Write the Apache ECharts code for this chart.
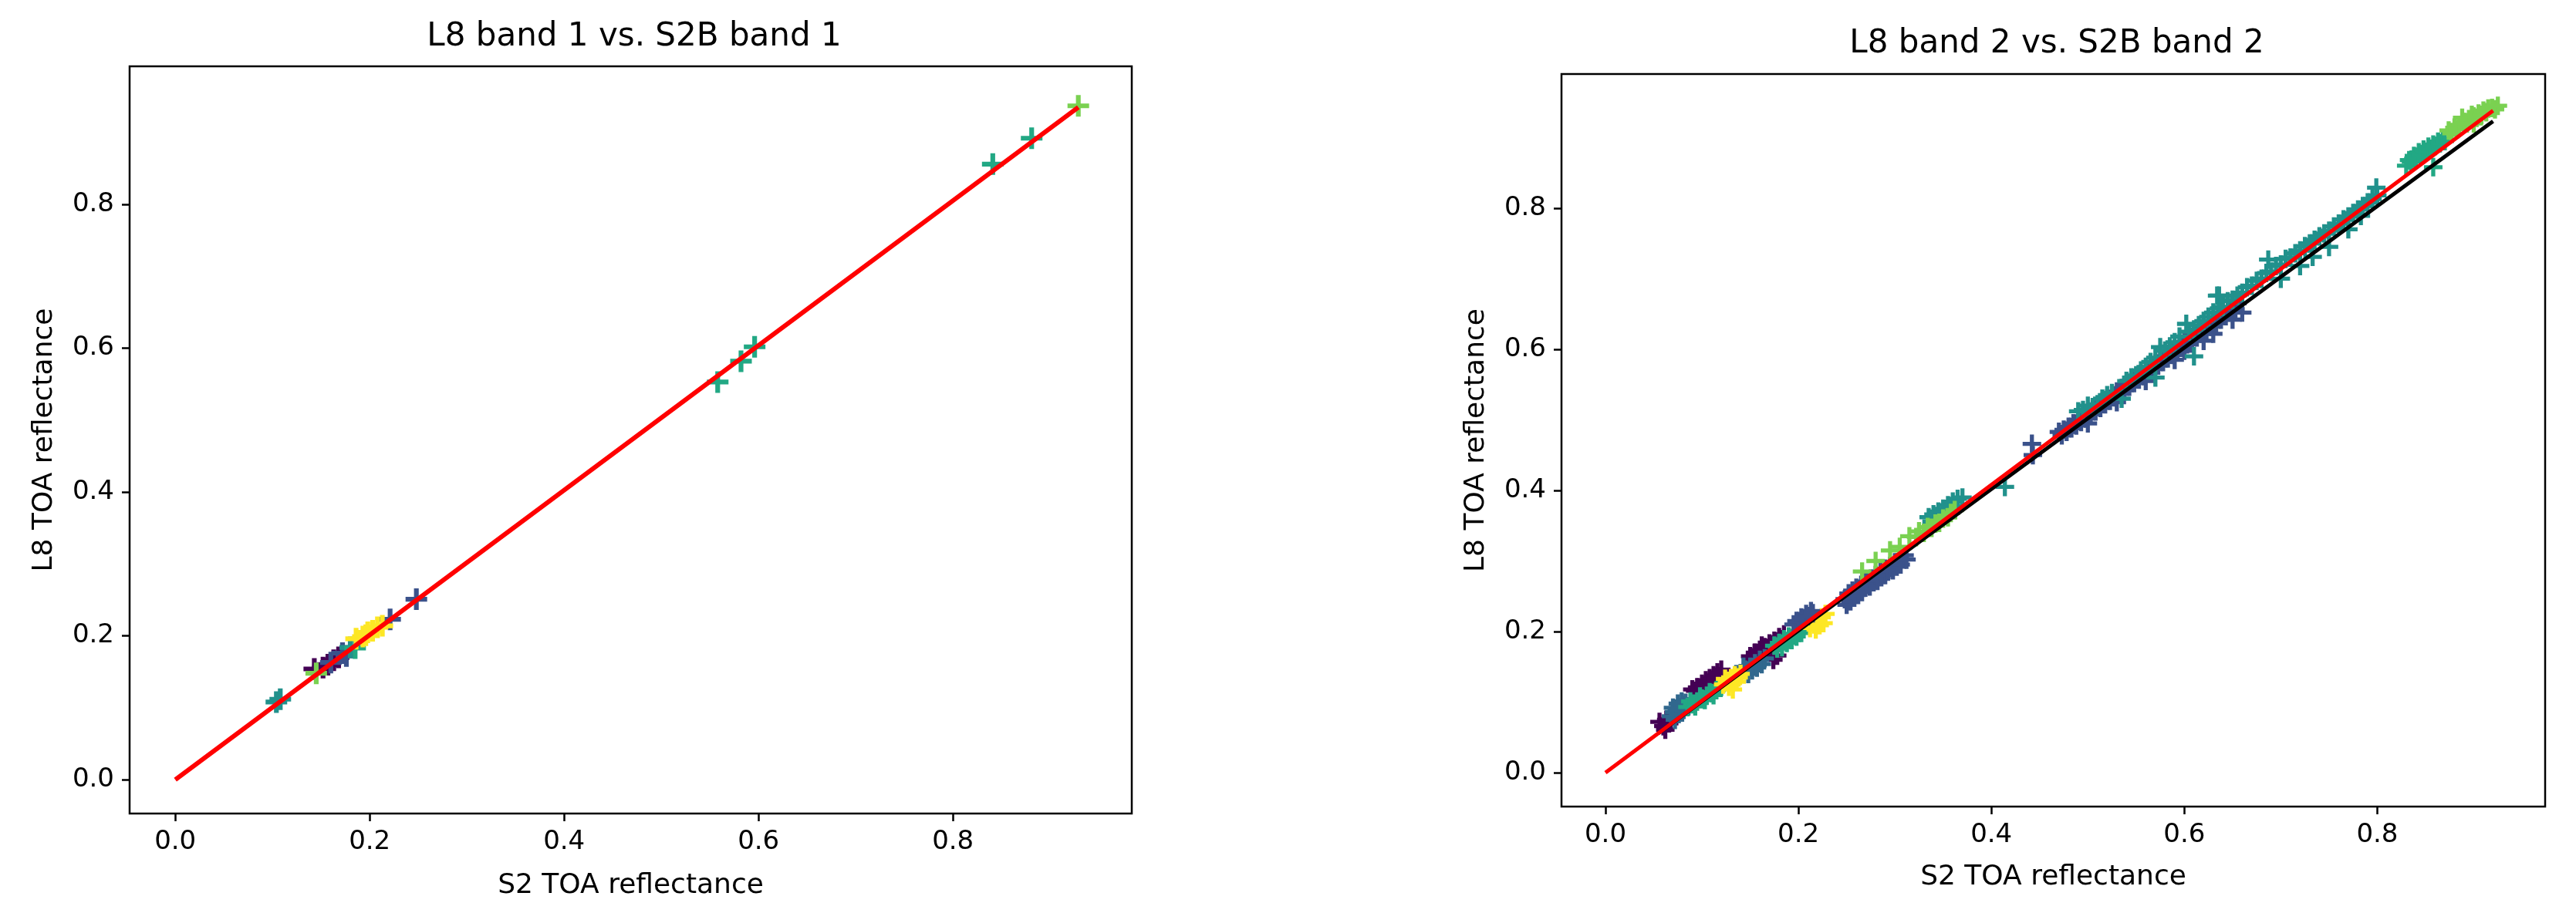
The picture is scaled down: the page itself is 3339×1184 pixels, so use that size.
<!DOCTYPE html>
<html>
<head>
<meta charset="utf-8">
<script src="https://cdn.jsdelivr.net/npm/echarts@6/dist/echarts.min.js"></script>
<style>html,body{margin:0;padding:0;background:#fff}#c{width:3339px;height:1184px}</style>
</head>
<body>
<div id="c"></div>
<script>
// ---------- DATA ----------
const titles = ['L8 band 1 vs. S2B band 1', 'L8 band 2 vs. S2B band 2'];
const xLabel = 'S2 TOA reflectance';
const yLabel = 'L8 TOA reflectance';
const tickValues = [0, 0.2, 0.4, 0.6, 0.8];

// Left panel (band 1) points, grouped by colour
const b1Purple = [[0.143,0.154],[0.152,0.156],[0.157,0.160],[0.163,0.166],[0.168,0.170]];
const b1Blue   = [[0.160,0.163],[0.172,0.176],[0.176,0.172],[0.221,0.223],[0.248,0.251]];
const b1Teal   = [[0.104,0.108],[0.108,0.112],[0.180,0.184]];
const b1Sea    = [[0.558,0.553],[0.582,0.582],[0.596,0.602],[0.841,0.856],[0.881,0.892],[0.185,0.183]];
const b1Lime   = [[0.145,0.148],[0.929,0.937]];
const b1Yellow = [[0.186,0.196],[0.193,0.199],[0.196,0.201],[0.198,0.205],[0.203,0.207],[0.208,0.212],[0.213,0.214]];
const b1Red    = [[0,0],[0.929,0.935]];

// Right panel (band 2) points, grouped by colour
const b2Purple = [[0.056,0.072],[0.060,0.066],[0.063,0.075],[0.066,0.070],[0.062,0.061],
  [0.090,0.118],[0.093,0.116],[0.095,0.121],[0.098,0.117],[0.100,0.126],[0.102,0.121],[0.104,0.131],[0.106,0.125],[0.108,0.134],[0.110,0.129],[0.112,0.138],[0.114,0.133],[0.116,0.142],[0.118,0.137],[0.120,0.146],
  [0.150,0.165],[0.152,0.160],[0.155,0.170],[0.158,0.163],[0.160,0.174],[0.162,0.180],[0.163,0.168],[0.165,0.178],[0.168,0.172],[0.170,0.183],[0.172,0.177],[0.175,0.187],[0.176,0.180],[0.178,0.185],[0.180,0.192],[0.183,0.189],[0.185,0.196],[0.174,0.160],[0.178,0.166]];
const b2Dusk = [[0.068,0.080],[0.070,0.092],[0.071,0.086],[0.072,0.075],[0.074,0.090],[0.075,0.098],[0.076,0.083],[0.077,0.093],[0.079,0.101],[0.080,0.096],[0.081,0.089],[0.083,0.099],[0.086,0.094],
  [0.140,0.141],[0.143,0.150],[0.145,0.146],[0.148,0.140],[0.150,0.150],[0.152,0.145],[0.155,0.155],[0.157,0.149],[0.160,0.160],[0.162,0.154],[0.165,0.162]];
const b2Sea = [[0.085,0.093],[0.088,0.101],[0.090,0.097],[0.093,0.094],[0.095,0.101],[0.098,0.108],[0.100,0.105],[0.103,0.103],[0.105,0.109],[0.108,0.114],[0.110,0.113],[0.112,0.110],[0.115,0.117],[0.118,0.121],[0.120,0.122],
  [0.175,0.180],[0.178,0.176],[0.180,0.184],[0.183,0.178],[0.185,0.189],[0.188,0.184],[0.190,0.193],[0.193,0.188],[0.195,0.197],[0.198,0.193],[0.200,0.201],[0.203,0.198],[0.205,0.206],
  [0.830,0.860],[0.833,0.868],[0.835,0.866],[0.838,0.874],[0.840,0.870],[0.843,0.879],[0.845,0.875],[0.848,0.883],[0.850,0.880],[0.853,0.887],[0.855,0.884],[0.858,0.858],[0.858,0.890],[0.860,0.888],[0.863,0.894],[0.865,0.892],[0.868,0.898],[0.870,0.895]];
const b2Yellow = [[0.122,0.125],[0.124,0.133],[0.126,0.130],[0.128,0.122],[0.130,0.134],[0.132,0.118],[0.132,0.127],[0.134,0.138],[0.136,0.129],[0.138,0.135],[0.140,0.140],
  [0.212,0.205],[0.214,0.214],[0.216,0.210],[0.218,0.203],[0.220,0.215],[0.222,0.209],[0.224,0.220],[0.226,0.212],[0.228,0.225]];
const b2Blue = [[0.195,0.210],[0.198,0.215],[0.200,0.214],[0.203,0.220],[0.205,0.218],[0.208,0.225],[0.210,0.222],[0.213,0.229],[0.215,0.226],
  [0.248,0.246],[0.250,0.238],[0.252,0.254],[0.254,0.243],[0.256,0.258],[0.258,0.248],[0.260,0.262],[0.262,0.252],[0.265,0.266],[0.266,0.256],[0.268,0.262],[0.270,0.271],[0.274,0.264],[0.275,0.275],
  [0.278,0.270],[0.280,0.280],[0.282,0.272],[0.285,0.285],[0.286,0.277],[0.290,0.289],[0.290,0.280],[0.293,0.285],[0.295,0.293],[0.298,0.287],[0.300,0.298],[0.302,0.292],[0.305,0.303],[0.306,0.295],[0.310,0.308],[0.312,0.302],
  [0.443,0.450],[0.442,0.466],[0.470,0.483],[0.473,0.478],[0.475,0.486],[0.478,0.483],[0.480,0.490],[0.483,0.488],[0.485,0.495],[0.488,0.492],[0.490,0.500],[0.493,0.497],[0.495,0.505],[0.498,0.502],[0.500,0.510],[0.500,0.495],[0.503,0.508],[0.505,0.515],
  [0.508,0.512],[0.510,0.520],[0.513,0.517],[0.515,0.525],[0.518,0.522],[0.520,0.530],[0.523,0.527],[0.525,0.535],[0.528,0.532],[0.530,0.540],[0.530,0.525],[0.533,0.537],[0.535,0.545],[0.538,0.542],[0.540,0.550],[0.543,0.547],[0.545,0.555],[0.548,0.552],[0.550,0.560],[0.553,0.557],[0.555,0.565],
  [0.558,0.562],[0.560,0.570],[0.560,0.555],[0.563,0.567],[0.565,0.574],[0.568,0.572],[0.570,0.580],[0.573,0.577],[0.575,0.585],[0.578,0.582],[0.580,0.590],[0.583,0.587],[0.585,0.595],[0.588,0.592],[0.590,0.600],[0.590,0.585],[0.593,0.597],[0.595,0.605],[0.598,0.602],[0.600,0.610],
  [0.600,0.598],[0.603,0.607],[0.605,0.615],[0.608,0.612],[0.610,0.620],[0.613,0.617],[0.615,0.625],[0.618,0.622],[0.620,0.630],[0.620,0.612],[0.623,0.627],[0.625,0.635],[0.628,0.632],[0.630,0.640],[0.630,0.622],[0.633,0.637],[0.635,0.645],[0.638,0.642],[0.640,0.650],
  [0.643,0.647],[0.645,0.655],[0.648,0.652],[0.650,0.660],[0.650,0.642],[0.653,0.657],[0.655,0.665],[0.660,0.652]];
const b2Teal = [[0.335,0.362],[0.338,0.356],[0.340,0.366],[0.342,0.358],[0.345,0.370],[0.347,0.362],[0.350,0.374],[0.352,0.368],[0.355,0.379],[0.357,0.373],[0.360,0.384],[0.362,0.378],[0.365,0.388],[0.370,0.390],[0.414,0.405],
  [0.490,0.512],[0.495,0.514],[0.500,0.520],[0.505,0.518],[0.510,0.522],[0.515,0.530],[0.520,0.535],[0.525,0.538],[0.535,0.530],[0.540,0.555],[0.545,0.560],[0.550,0.563],[0.555,0.570],[0.560,0.575],[0.565,0.582],[0.570,0.560],[0.570,0.588],[0.575,0.603],[0.580,0.598],[0.585,0.604],[0.590,0.610],
  [0.595,0.618],[0.602,0.636],[0.605,0.625],[0.610,0.590],[0.610,0.628],[0.615,0.634],[0.620,0.640],[0.625,0.646],[0.630,0.652],[0.634,0.676],[0.636,0.676],[0.636,0.658],[0.640,0.660],[0.645,0.668],[0.650,0.670],[0.655,0.676],[0.660,0.680],[0.665,0.688],[0.670,0.690],[0.675,0.697],[0.680,0.700],[0.685,0.708],
  [0.687,0.727],[0.690,0.710],[0.695,0.718],[0.700,0.720],[0.700,0.700],[0.705,0.728],[0.710,0.730],[0.715,0.736],[0.720,0.740],[0.720,0.718],[0.725,0.746],[0.730,0.750],[0.733,0.731],[0.735,0.755],[0.740,0.760],[0.745,0.764],[0.750,0.768],
  [0.750,0.745],[0.755,0.774],[0.760,0.778],[0.765,0.784],[0.770,0.788],[0.770,0.770],[0.775,0.793],[0.780,0.798],[0.783,0.789],[0.785,0.803],[0.790,0.808],[0.795,0.813],[0.799,0.829],[0.800,0.818]];
const b2Lime = [[0.266,0.285],[0.280,0.300],[0.295,0.315],[0.305,0.320],[0.315,0.335],[0.322,0.334],[0.325,0.342],[0.330,0.340],[0.334,0.348],[0.338,0.347],[0.342,0.353],[0.346,0.354],[0.350,0.360],[0.355,0.362],[0.358,0.368],[0.362,0.372],
  [0.874,0.910],[0.877,0.906],[0.880,0.914],[0.883,0.912],[0.885,0.918],[0.888,0.928],[0.890,0.922],[0.893,0.920],[0.895,0.926],[0.898,0.932],[0.900,0.930],[0.900,0.920],[0.903,0.928],[0.905,0.934],[0.908,0.932],[0.910,0.938],[0.913,0.936],[0.915,0.941],[0.919,0.942],[0.922,0.940],[0.925,0.945]];
const b2Black = [[0.055,0.056],[0.920,0.923]];
const b2Red   = [[0,0],[0.920,0.938]];

// ---------- CHART ----------
const plus = 'path://M0,3.9H10V6.1H0Z M3.9,0H6.1V10H3.9Z';
const colors = {purple:'#440154', dusk:'#31688e', blue:'#3b528b', teal:'#21918c', sea:'#22a884', lime:'#7ad151', yellow:'#fde725'};
const font = 'DejaVu Sans';

function scatter(idx, data, color, size) {
  return {type:'scatter', xAxisIndex:idx, yAxisIndex:idx, data:data, symbol:plus, symbolSize:size,
    itemStyle:{color:color, opacity:1}, silent:true, z:2};
}
function line(idx, data, color, width, z) {
  return {type:'line', xAxisIndex:idx, yAxisIndex:idx, data:data, symbol:'none', silent:true,
    lineStyle:{color:color, width:width}, z:z};
}
function axisCommon(idx, min, max, name, nameGap) {
  return {type:'value', gridIndex:idx, min:min, max:max, splitLine:{show:false},
    axisLine:{show:false, onZero:false},
    axisTick:{show:true, length:10, inside:false, lineStyle:{color:'#000', width:2.5}, customValues:tickValues},
    axisLabel:{customValues:tickValues, formatter:v=>v.toFixed(1), fontSize:34, fontFamily:font, color:'#000', margin:20},
    name:name, nameLocation:'middle', nameGap:nameGap, nameTextStyle:{fontSize:36, fontFamily:font, color:'#000'}};
}

const chart = echarts.init(document.getElementById('c'), null, {renderer:'canvas'});
chart.setOption({
  animation:false,
  backgroundColor:'#fff',
  title:[
    {text:titles[0], left:817, top:22, textAlign:'center', textStyle:{fontSize:42, fontWeight:'normal', fontFamily:font, color:'#000'}},
    {text:titles[1], left:2661, top:31, textAlign:'center', textStyle:{fontSize:42, fontWeight:'normal', fontFamily:font, color:'#000'}}
  ],
  grid:[
    {left:168, top:86, width:1299, height:969, show:true, borderColor:'#000', borderWidth:2.5, backgroundColor:'transparent'},
    {left:2024, top:96, width:1275, height:950, show:true, borderColor:'#000', borderWidth:2.5, backgroundColor:'transparent'}
  ],
  xAxis:[axisCommon(0, -0.047, 0.984, xLabel, 76), axisCommon(1, -0.0456, 0.974, xLabel, 74)],
  yAxis:[axisCommon(0, -0.047, 0.992, yLabel, 92), axisCommon(1, -0.048, 0.990, yLabel, 92)],
  series:[
    scatter(0, b1Purple, colors.purple, 28),
    scatter(0, b1Blue, colors.blue, 28),
    scatter(0, b1Teal, colors.teal, 28),
    scatter(0, b1Sea, colors.sea, 28),
    scatter(0, b1Lime, colors.lime, 28),
    scatter(0, b1Yellow, colors.yellow, 28),
    line(0, b1Red, '#ff0000', 6, 5),
    scatter(1, b2Purple, colors.purple, 24),
    scatter(1, b2Dusk, colors.dusk, 24),
    scatter(1, b2Sea, colors.sea, 24),
    scatter(1, b2Yellow, colors.yellow, 24),
    scatter(1, b2Blue, colors.blue, 24),
    scatter(1, b2Teal, colors.teal, 24),
    scatter(1, b2Lime, colors.lime, 24),
    line(1, b2Black, '#000000', 5, 4),
    line(1, b2Red, '#ff0000', 5, 5)
  ]
});
</script>
</body>
</html>
